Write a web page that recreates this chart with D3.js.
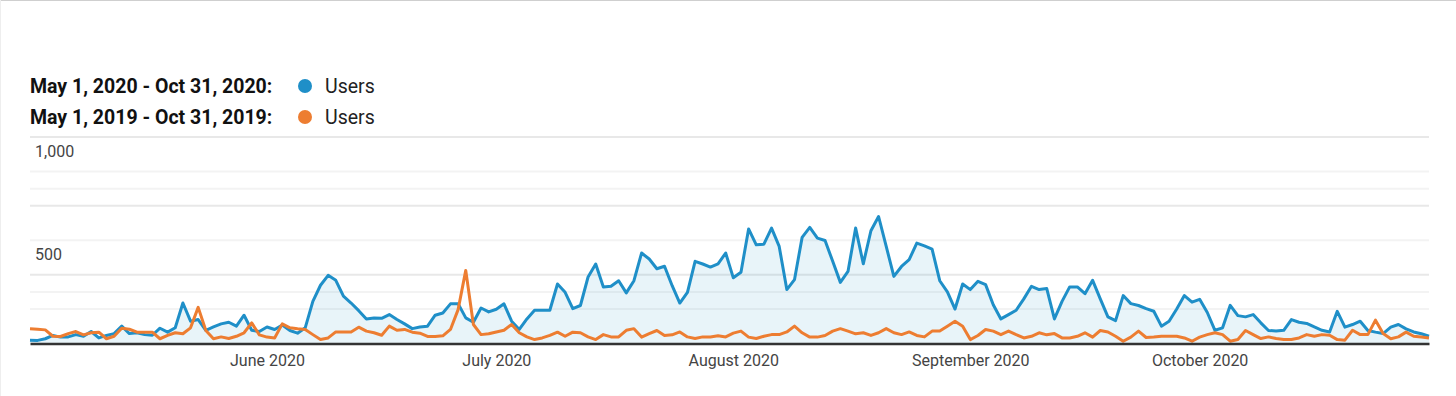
<!DOCTYPE html>
<html>
<head>
<meta charset="utf-8">
<script src="https://cdn.jsdelivr.net/npm/d3@7"></script>
<style>
  body { margin: 0; background: #fff; }
  svg { display: block; font-family: Roboto, sans-serif; }
</style>
</head>
<body>
<div id="chart"></div>
<script>
// daily users, May 1 - Oct 31
const users2020 = [
  16,15,23,39,31,32,43,35,58,27,
  39,48,84,48,52,43,40,74,55,76,
  196,108,116,64,80,95,103,84,137,64,
  58,80,68,89,63,50,76,204,282,330,
  306,229,196,159,119,124,122,140,116,95,
  72,80,84,137,148,192,193,124,103,172,
  153,166,192,108,68,119,161,161,161,288,
  248,169,184,322,385,274,277,304,245,304,
  438,409,362,374,280,196,248,398,385,370,
  386,438,318,345,555,478,481,559,470,261,
  309,514,562,510,499,398,296,349,559,386,
  546,615,470,325,373,406,486,473,457,304,
  250,167,288,261,301,285,188,119,140,161,
  216,277,261,266,119,204,274,274,241,306,
  216,129,111,232,193,184,169,156,84,108,
  167,232,200,214,150,64,76,185,135,129,
  140,100,63,60,64,116,103,97,80,64,
  56,156,79,92,108,63,55,48,79,92,
  71,56,47,35
];
const users2019 = [
  71,69,66,35,34,48,58,42,52,55,
  23,35,74,69,55,55,55,23,39,52,
  47,76,175,63,23,32,24,35,52,100,
  42,31,27,95,76,71,68,43,19,27,
  56,56,56,79,60,52,40,84,64,68,
  55,50,34,34,37,68,164,354,92,43,
  47,56,64,92,52,32,19,27,39,55,
  35,55,52,32,19,43,32,32,64,72,
  31,48,63,39,42,56,32,24,32,32,
  37,32,50,60,31,24,35,43,43,56,
  84,52,31,31,39,60,72,60,47,52,
  39,52,72,52,43,56,39,32,60,60,
  84,108,84,19,39,68,60,43,60,43,
  27,35,52,42,48,27,27,35,52,31,
  63,56,35,11,31,60,29,31,35,35,
  35,27,11,31,43,52,43,11,19,63,
  43,24,32,24,19,19,27,43,35,43,
  40,19,16,64,43,43,113,48,23,32,
  55,35,31,27
];
const legendLabels = ["May 1, 2020 - Oct 31, 2020:", "May 1, 2019 - Oct 31, 2019:"];
const seriesName = "Users";
const yLabels = [1000, 500];
const majorGrid = [1000, 666.67, 333.33];
const minorGrid = [833.33, 750, 500, 250, 166.67];

const width = 1456, height = 396;
const margin = ({top: 137, right: 27, bottom: 52, left: 30});
const blue = "#1f8fc8", orange = "#ed7d31";

const start = new Date(2020, 4, 1);
const days = d3.timeDay.range(start, d3.timeDay.offset(start, users2020.length));

const svg = d3.select("#chart").append("svg")
  .attr("width", width)
  .attr("height", height);

// frame edges
svg.append("line").attr("x1", 0).attr("x2", width).attr("y1", 0.5).attr("y2", 0.5)
  .attr("stroke", "#cfcfcf");
svg.append("line").attr("x1", 0.5).attr("x2", 0.5).attr("y1", 0).attr("y2", height)
  .attr("stroke", "#eeeeee");

const x = d3.scaleTime()
  .domain([days[0], days[days.length - 1]])
  .range([margin.left, width - margin.right]);

const y = d3.scaleLinear()
  .domain([0, 1000])
  .range([height - margin.bottom - 0.5, margin.top]);

// legend
const legend = svg.append("g");
legendLabels.forEach((label, i) => {
  const ly = 86 + i * 31;
  legend.append("text")
    .attr("x", 30).attr("y", ly).attr("dy", "0.35em")
    .attr("font-size", 19.5).attr("font-weight", "bold").attr("fill", "#111")
    .text(label);
  legend.append("circle")
    .attr("cx", 305).attr("cy", ly).attr("r", 7)
    .attr("fill", i === 0 ? blue : orange);
  legend.append("text")
    .attr("x", 325).attr("y", ly).attr("dy", "0.35em")
    .attr("font-size", 19.5).attr("fill", "#222")
    .text(seriesName);
});

// grid
svg.append("g")
  .selectAll("line")
  .data(minorGrid)
  .join("line")
  .attr("x1", margin.left).attr("x2", width - margin.right)
  .attr("y1", d => y(d)).attr("y2", d => y(d))
  .attr("stroke", "#f3f3f3").attr("stroke-width", 2);

svg.append("g")
  .selectAll("line")
  .data(majorGrid)
  .join("line")
  .attr("x1", margin.left).attr("x2", width - margin.right)
  .attr("y1", d => y(d)).attr("y2", d => y(d))
  .attr("stroke", "#e8e8e8").attr("stroke-width", 2);

svg.append("g")
  .selectAll("text")
  .data(yLabels)
  .join("text")
  .attr("x", 35)
  .attr("y", d => y(d) + 19.5)
  .attr("font-size", 16)
  .attr("fill", "#444")
  .text(d => d3.format(",")(d));

// area + lines
const area = d3.area()
  .x((d, i) => x(days[i]))
  .y0(y(0))
  .y1(d => y(d));

const line = d3.line()
  .x((d, i) => x(days[i]))
  .y(d => y(d));

svg.append("path")
  .datum(users2020)
  .attr("fill", blue)
  .attr("fill-opacity", 0.1)
  .attr("d", area);

svg.append("path")
  .datum(users2020)
  .attr("fill", "none")
  .attr("stroke", blue)
  .attr("stroke-width", 3)
  .attr("stroke-linejoin", "round")
  .attr("d", line);

svg.append("path")
  .datum(users2019)
  .attr("fill", "none")
  .attr("stroke", orange)
  .attr("stroke-width", 3)
  .attr("stroke-linejoin", "round")
  .attr("d", line);

// x axis
const xAxis = g => g
  .attr("transform", `translate(0,${y(0)})`)
  .call(d3.axisBottom(x)
    .tickValues(d3.timeMonth.range(new Date(2020, 5, 1), new Date(2020, 10, 1)))
    .tickFormat(d3.timeFormat("%B %Y"))
    .tickSize(0)
    .tickPadding(11))
  .call(g => g.select(".domain")
    .attr("stroke", "#333")
    .attr("stroke-width", 2.5))
  .call(g => g.selectAll("text")
    .attr("font-family", "Roboto, sans-serif")
    .attr("font-size", 16)
    .attr("fill", "#444"));

svg.append("g").call(xAxis);
</script>
</body>
</html>
